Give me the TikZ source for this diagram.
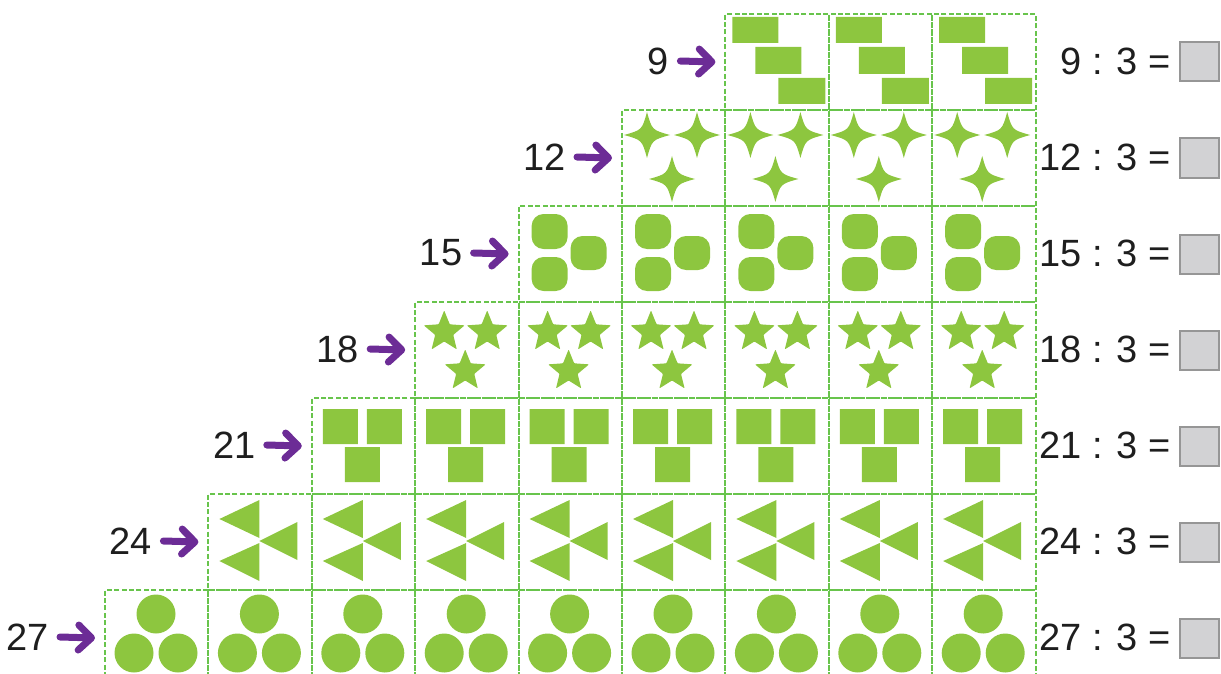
\documentclass[tikz,border=0pt]{standalone}
\usepackage{fontspec}
\setmainfont{Liberation Sans}
\usetikzlibrary{arrows.meta}
\definecolor{leaf}{RGB}{141,198,63}
\definecolor{edge}{RGB}{104,196,76}
\definecolor{plum}{RGB}{108,44,150}
\definecolor{ink}{RGB}{30,30,30}
\definecolor{boxfill}{RGB}{210,210,212}
\definecolor{boxline}{RGB}{150,150,150}
\begin{document}
\begin{tikzpicture}[
  x=0.5pt, y=-0.5pt,
  cell/.style={rectangle, draw=edge, line width=1pt, dash pattern=on 2.5pt off 1.2pt,
               minimum width=51.7pt, minimum height=48pt, anchor=north west, inner sep=0pt},
  count/.style={anchor=east, inner sep=0pt, text=ink, font=\fontsize{19}{22}\selectfont},
  sum/.style={anchor=east, inner sep=0pt, text=ink, font=\fontsize{19}{22}\selectfont},
  answer/.style={rectangle, draw=boxline, fill=boxfill, line width=1pt,
                 minimum size=19.5pt, inner sep=0pt},
  pointer/.style={draw=plum, line width=3.5pt, line cap=round,
                  -{Straight Barb[length=6.5pt, width=12.5pt, line width=3.5pt, round]}},
  pics/rects/.style={code={
    \fill[leaf] (8,4) rectangle (54,30) (31,34) rectangle (77,61) (54,65) rectangle (101,91);
  }},
  pics/sparkles/.style={code={
    \foreach \cx/\cy in {26/26, 76/26, 51/70}
      \fill[leaf, shift={(\cx,\cy)}] (23,0) .. controls (5,5) .. (0,23)
        .. controls (-5,5) .. (-23,0) .. controls (-5,-5) .. (0,-23)
        .. controls (5,-5) .. (23,0) -- cycle;
  }},
  pics/blobs/.style={code={
    \fill[leaf, rounded corners=6pt] (14,9) rectangle (50,44) (53,31) rectangle (89,65)
                                     (14,52) rectangle (50,86);
  }},
  pics/stars/.style={code={
    \foreach \cx/\cy in {30/31, 73/31, 51/70}
      \fill[leaf, rounded corners=0.4pt, shift={(\cx,\cy)}]
        (-90:21.5) -- (-54:9.5) -- (-18:21.5) -- (18:9.5) -- (54:21.5) -- (90:9.5)
        -- (126:21.5) -- (162:9.5) -- (198:21.5) -- (234:9.5) -- cycle;
  }},
  pics/blocks/.style={code={
    \fill[leaf] (12,12) rectangle (47,47) (56,12) rectangle (91,47) (34,50) rectangle (69,85);
  }},
  pics/wedges/.style={code={
    \fill[leaf] (12,26) -- (52,7) -- (52,45) -- cycle
                (52,48) -- (90,29) -- (90,67) -- cycle
                (12,68) -- (52,50) -- (52,88) -- cycle;
  }},
  pics/dots/.style={code={
    \fill[leaf] (52,25) circle[radius=19.5] (30,64) circle[radius=19.5] (74,64) circle[radius=19.5];
  }}
]
  \path[use as bounding box, clip] (0,0) rectangle (1221,674);

  % ── Rows: tiles, count, arrow and sum ──────────────────────────────────
  \foreach \r/\kind in {0/rects, 1/sparkles, 2/blobs, 3/stars, 4/blocks, 5/wedges, 6/dots} {
    \pgfmathtruncatemacro\first{6-\r}
    \pgfmathtruncatemacro\num{9+3*\r}
    \foreach \c in {\first,...,8} {
      \node[cell] (c\r-\c) at ({104+103.4*\c}, {13+96*\r}) {};
      \pic at (c\r-\c.north west) {\kind};
    }
    % count with arrow to the first tile
    \node[count] (n\r) at ({104+103.4*\first-55}, {61+96*\r}) {\num};
    \draw[pointer] ([xshift=5.5pt]n\r.east) -- ([xshift=-4.5pt]c\r-\first.west);
    % division and answer box
    \node[sum]    (s\r) at (1171, {61+96*\r}) {\num\ : 3 =};
    \node[answer] (a\r) at (1199, {62+96*\r}) {};
  }
\end{tikzpicture}
\end{document}
